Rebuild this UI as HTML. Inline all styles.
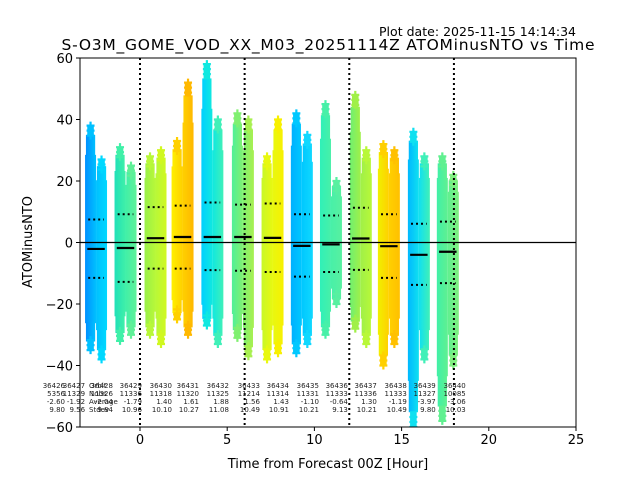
<!DOCTYPE html>
<html><head><meta charset="utf-8"><style>
html,body{margin:0;padding:0;background:#fff;}
svg{display:block;font-family:"DejaVu Sans","Liberation Sans",sans-serif;}
</style></head><body>
<svg id="chart" width="640" height="480" viewBox="0 0 640 480">
<defs id="defs"></defs>
<text x="576" y="36" font-size="12.5" text-anchor="end" textLength="197">Plot date: 2025-11-15 14:14:34</text>
<text x="328" y="50" font-size="15.5" text-anchor="middle" textLength="533">S-O3M_GOME_VOD_XX_M03_20251114Z ATOMinusNTO vs Time</text>
<g id="plot"></g>
<text x="328" y="468" font-size="13" text-anchor="middle">Time from Forecast 00Z [Hour]</text>
<text transform="translate(32,242) rotate(-90)" font-size="13" text-anchor="middle">ATOMinusNTO</text>
</svg>
<script>
const centers=[-2.52,-0.83,0.89,2.44,4.15,5.9,7.6,9.28,10.95,12.66,14.27,15.99,17.65];
const means=[-2.1,-1.8,1.4,1.8,1.8,1.8,1.5,-1.1,-0.6,1.3,-1.2,-4.0,-3.0];
const stdUp=[7.5,9.2,11.5,12,13,12.3,12.7,9.2,8.8,11.3,9.2,6.1,6.8];
const stdDn=[-11.5,-12.8,-8.5,-8.5,-9,-9.2,-9.6,-11.1,-9.6,-8.9,-11.5,-13.8,-13.2];
const leftLo=[-35,-32,-30,-25,-27,-31,-38,-36,-30,-28,-40,-60,-58];
const leftHi=[38,31,28,33,58,42,28,42,45,48,32,36,28];
const rightLo=[-38,-30,-33,-30,-33,-37,-36,-33,-20,-33,-33,-38,-40];
const rightHi=[27,25,30,52,40,40,40,35,20,30,30,28,22];
const colA=["#0090ff","#20e0b8","#98f048","#fff000","#00d0ff","#50f098","#c8f828","#00b0ff","#30f0b8","#70f070","#f0f000","#00b8ff","#40f0a8"];
const colB=["#00c0ff","#40f0a8","#b8f838","#ffd000","#10e8e0","#80f070","#e8f810","#00c8ff","#48f0a8","#a0f048","#ffd000","#10e0f0","#60f090"];
const colC=["#00d8ff","#60f098","#d0f820","#ffb800","#40f0b8","#a8f050","#f8f000","#10d8ff","#58f0a0","#b8f838","#ffc000","#40f0b8","#80f080"];
const orbits=["36426","36427","36428","36429","36430","36431","36432","36433","36434","36435","36436","36437","36438","36439","36440"];
const nobs=["5356","11329","11326","11336","11318","11320","11325","11214","11314","11331","11333","11336","11333","11327","10085"];
const avgs=["-2.60","-1.92","-2.04","-1.79","1.40","1.61","1.88","1.56","1.43","-1.10","-0.64","1.30","-1.19","-3.97","-3.06"];
const stdevs=["9.80","9.56","9.84","10.96","10.10","10.27","11.08","10.49","10.91","10.21","9.13","10.21","10.49","9.80","10.03"];
const labelHours=[-4.30,-3.15,-1.55,0.11,1.83,3.38,5.1,6.88,8.54,10.26,11.92,13.58,15.3,16.96,18.68];
const xTicks=[0,5,10,15,20,25];
const yTicks=[-60,-40,-20,0,20,40,60];
const vLines=[0,6,12,18];
const X0=80,X1=576,Y0=58,Y1=427,XMIN=-3.44,XMAX=25,YMIN=-60,YMAX=60;
const sx=v=>X0+(v-XMIN)/(XMAX-XMIN)*(X1-X0);
const sy=v=>Y1-(v-YMIN)/(YMAX-YMIN)*(Y1-Y0);
const NS="http://www.w3.org/2000/svg";
const plot=document.getElementById('plot'),defs=document.getElementById('defs');
function mk(tag,attrs,parent){const e=document.createElementNS(NS,tag);for(const k in attrs)e.setAttribute(k,attrs[k]);(parent||plot).appendChild(e);return e;}
const clip=mk('clipPath',{id:'pc'},defs);mk('rect',{x:X0,y:Y0,width:X1-X0,height:Y1-Y0},clip);
const dg=mk('g',{'clip-path':'url(#pc)'});


const hw=0.63;
function grad(id,a,b){const g=mk('linearGradient',{id:id,x1:0,x2:1,y1:0,y2:0},defs);mk('stop',{offset:0,'stop-color':a},g);mk('stop',{offset:1,'stop-color':b},g);}
function plus(x,y,c){mk('path',{d:`M${x-4},${y}h8M${x},${y-4}v8`,stroke:c,'stroke-width':2.2},dg);}
function strip(x0,x1,lo,hi,fill,c,name){
  const core=mk('rect',{x:x0,y:sy(hi*0.75),width:x1-x0,height:sy(lo*0.75)-sy(hi*0.75),fill:fill},dg);
  
  
  const w=(x1-x0),xm=(x0+x1)/2;
  mk('rect',{x:xm-w*0.42,y:sy(hi*0.92),width:w*0.84,height:sy(hi*0.75)-sy(hi*0.92)+1,fill:fill},dg);
  mk('rect',{x:xm-w*0.42,y:sy(lo*0.75)-1,width:w*0.84,height:sy(lo*0.92)-sy(lo*0.75)+1,fill:fill},dg);
  mk('rect',{x:xm-w*0.3,y:sy(hi),width:w*0.6,height:sy(hi*0.92)-sy(hi)+1,fill:c},dg);
  mk('rect',{x:xm-w*0.3,y:sy(lo*0.92)-1,width:w*0.6,height:sy(lo)-sy(lo*0.92)+1,fill:c},dg);
  for(let k=0;k<3;k++){plus(xm,sy(hi)+k*5,c);plus(xm,sy(lo)-k*5,c);}
}
centers.forEach((c,i)=>{
  grad('gl'+i,colA[i],colB[i]);grad('gr'+i,colB[i],colC[i]);
  const xl=sx(c-hw),xm=sx(c),xr=sx(c+hw);
  strip(xl,xm,leftLo[i],leftHi[i],`url(#gl${i})`,colB[i],'cluster-left-'+i);
  strip(xm,xr,rightLo[i],rightHi[i],`url(#gr${i})`,colC[i],'cluster-right-'+i);
  const ml=mk('line',{x1:sx(c-0.5),x2:sx(c+0.5),y1:sy(means[i]),y2:sy(means[i]),stroke:'#000','stroke-width':2.2},dg);
  
  
  [stdUp[i],stdDn[i]].forEach(v=>{const s=mk('line',{x1:sx(c-0.45),x2:sx(c+0.45),y1:sy(v),y2:sy(v),stroke:'#000','stroke-width':2,'stroke-dasharray':'2,3'},dg);
    
    });
});
vLines.forEach(v=>{const l=mk('line',{x1:sx(v),x2:sx(v),y1:Y0,y2:Y1,stroke:'#000','stroke-width':2,'stroke-dasharray':'2,3'});
  
  });
const zl=mk('line',{x1:X0,x2:X1,y1:sy(0),y2:sy(0),stroke:'#000','stroke-width':1.2});


const rows=[orbits,nobs,avgs,stdevs];
labelHours.forEach((h,i)=>{rows.forEach((arr,r)=>{const t=mk('text',{x:sx(h),y:388+r*8,'font-size':7,'text-anchor':'end',fill:'#222'});t.textContent=arr[i];
  
  });});
["Orbit","Nobs","Average","Stdev"].forEach((s,r)=>{const t=mk('text',{x:89,y:388+r*8,'font-size':7,fill:'#222'});t.textContent=s;
  
  });
const fr=mk('rect',{x:X0,y:Y0,width:X1-X0,height:Y1-Y0,fill:'none',stroke:'#000','stroke-width':1});


xTicks.forEach(v=>{mk('line',{x1:sx(v),x2:sx(v),y1:Y1,y2:Y1+4,stroke:'#000'});const t=mk('text',{x:sx(v),y:Y1+17,'font-size':13,'text-anchor':'middle'});t.textContent=v;
  
  });
yTicks.forEach(v=>{mk('line',{x1:X0-4,x2:X0,y1:sy(v),y2:sy(v),stroke:'#000'});const t=mk('text',{x:X0-7,y:sy(v)+5,'font-size':13,'text-anchor':'end'});t.textContent=v<0?'\u2212'+(-v):v;
  
  });
</script>
</body></html>
